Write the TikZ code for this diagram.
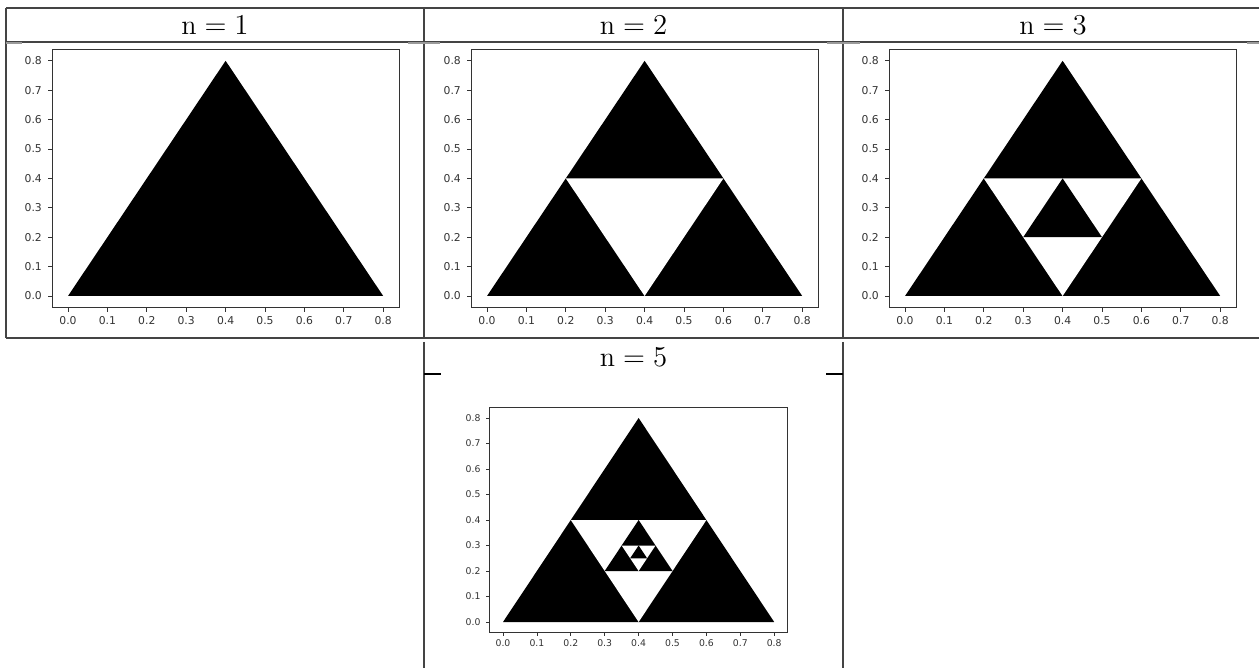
\documentclass[tikz,border=0pt]{standalone}
\usepackage{fontspec}
\newfontfamily\tickfont{DejaVu Sans}
\usetikzlibrary{positioning}
\definecolor{rulegray}{HTML}{444444}
\definecolor{lightrule}{HTML}{9A9A9A}
\definecolor{axisgray}{HTML}{333333}

\tikzset{
  tablerule/.style={draw=rulegray, line width=0.8pt},
  shortrule/.style={draw=lightrule, line width=0.8pt},
  axesframe/.style={draw=axisgray, line width=0.45pt},
  tickmark/.style={draw=axisgray, line width=0.4pt},
  heading/.style={font=\fontsize{14}{16}\selectfont, inner sep=0pt},
}

\begin{document}
\begin{tikzpicture}[x=0.5pt, y=-0.5pt]
  \useasboundingbox (0,0) rectangle (1259,668);

  % table rules
  \draw[tablerule] (6,8) -- (1259,8);
  \draw[tablerule] (6,42) -- (1259,42);
  \draw[tablerule] (6,338) -- (1259,338);
  \foreach \vx in {6,424,843}
    \draw[tablerule] (\vx,8) -- (\vx,338);
  \foreach \vx in {424,843}
    \draw[tablerule] (\vx,342) -- (\vx,668);
  \foreach \ax/\bx in {6/22, 408/440, 827/860, 1247/1259}
    \draw[shortrule] (\ax,43) -- (\bx,43);
  \draw[line width=0.8pt] (424,374) -- (441,374);
  \draw[line width=0.8pt] (826,374) -- (843,374);

  % column titles
  \foreach \hx/\hy/\n in {215/25/1, 633.5/25/2, 1053/25/3, 633.5/357/5}
    \node[heading] (title\n) at (\hx,\hy) {$\mathrm{n} = \n$};

  % one plot per level
  \foreach \ox/\oy/\sx/\sy/\lvl in {68/296/394/294/1, 487/296/394/294/2,
                                    905/296/394/294/3, 503/622/339/255/5} {
    \pgfmathsetmacro\fs{5.4*\sx/394}
    \pgfmathsetmacro\tl{2*\sx/394}
    \begin{scope}[shift={({\ox*0.5pt},{-\oy*0.5pt})}, x=\sx*0.5pt, y=\sy*0.5pt]
      \fill (0,0) -- (0.8,0) -- (0.4,0.8) -- cycle;
      \ifnum\lvl>1 \fill[white] (0.2,0.4) -- (0.6,0.4) -- (0.4,0) -- cycle; \fi
      \ifnum\lvl>2 \fill (0.3,0.2) -- (0.5,0.2) -- (0.4,0.4) -- cycle; \fi
      \ifnum\lvl>3 \fill[white] (0.35,0.3) -- (0.45,0.3) -- (0.4,0.2) -- cycle; \fi
      \ifnum\lvl>4 \fill (0.375,0.25) -- (0.425,0.25) -- (0.4,0.3) -- cycle; \fi
      \draw[axesframe] (-0.04,-0.04) rectangle (0.84,0.84);
      \foreach \t [count=\i] in {0.0,0.1,0.2,0.3,0.4,0.5,0.6,0.7,0.8} {
        \draw[tickmark] (\t,-0.04) -- ++(0,-\tl pt);
        \draw[tickmark] (-0.04,\t) -- ++(-\tl pt,0);
        \path (\t,-0.04) ++(0,-2*\tl pt) node[anchor=north, inner sep=0pt, text=axisgray,
          font=\tickfont\fontsize{\fs}{\fs}\selectfont] (xl\lvl-\i) {\t};
        \path (-0.04,\t) ++(-2.5*\tl pt,0) node[anchor=east, inner sep=0pt, text=axisgray,
          font=\tickfont\fontsize{\fs}{\fs}\selectfont] (yl\lvl-\i) {\t};
      }
    \end{scope}
  }
\end{tikzpicture}
\end{document}
